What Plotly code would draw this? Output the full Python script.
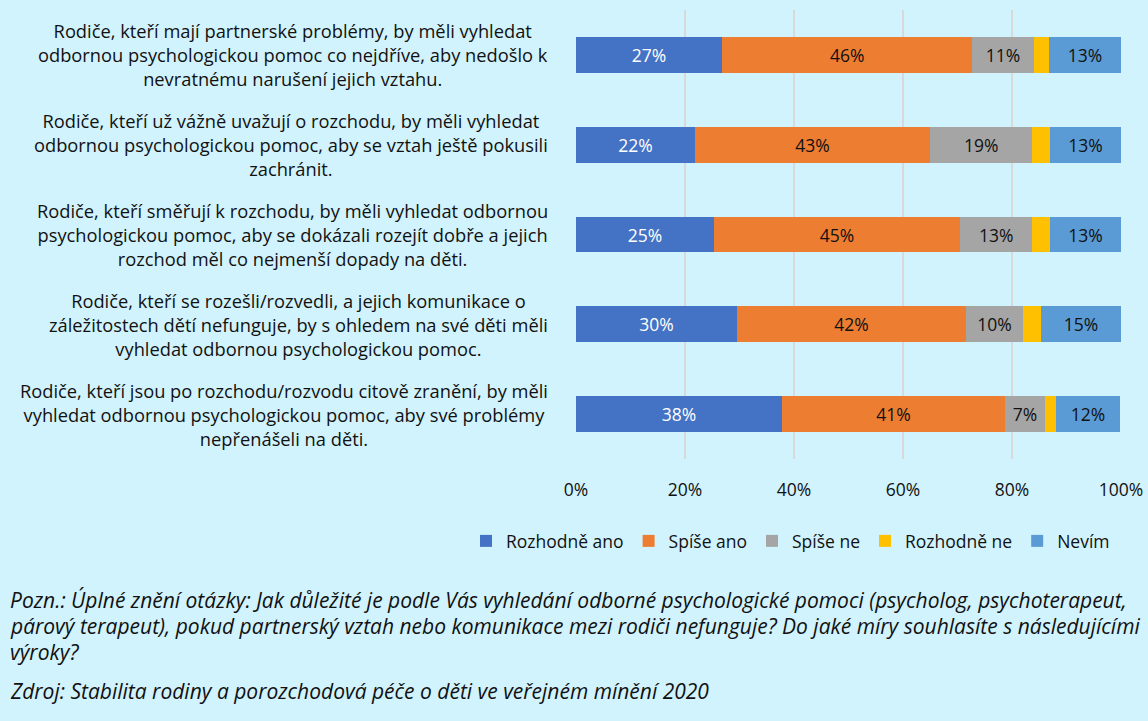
import plotly.graph_objects as go

categories = [
    "Rodiče, kteří mají partnerské problémy, by měli vyhledat<br>odbornou psychologickou pomoc co nejdříve, aby nedošlo k<br>nevratnému narušení jejich vztahu.",
    "Rodiče, kteří už vážně uvažují o rozchodu, by měli vyhledat<br>odbornou psychologickou pomoc, aby se vztah ještě pokusili<br>zachránit.",
    "Rodiče, kteří směřují k rozchodu, by měli vyhledat odbornou<br>psychologickou pomoc, aby se dokázali rozejít dobře a jejich<br>rozchod měl co nejmenší dopady na děti.",
    "Rodiče, kteří se rozešli/rozvedli, a jejich komunikace o<br>záležitostech dětí nefunguje, by s ohledem na své děti měli<br>vyhledat odbornou psychologickou pomoc.",
    "Rodiče, kteří jsou po rozchodu/rozvodu citově zranění, by měli<br>vyhledat odbornou psychologickou pomoc, aby své problémy<br>nepřenášeli na děti.",
]
series_names = ["Rozhodně ano", "Spíše ano", "Spíše ne", "Rozhodně ne", "Nevím"]
rozhodne_ano = [26.8, 21.8, 25.3, 29.5, 37.8]
spise_ano = [45.9, 43.2, 45.2, 42.1, 40.9]
spise_ne = [11.3, 18.7, 13.2, 10.4, 7.4]
rozhodne_ne = [2.8, 3.3, 3.3, 3.3, 1.9]
nevim = [13.2, 13.0, 13.0, 14.7, 11.9]
x_ticks = [0, 20, 40, 60, 80, 100]
x_tick_labels = ["0%", "20%", "40%", "60%", "80%", "100%"]
footnote_lines = [
    "Pozn.: Úplné znění otázky: Jak důležité je podle Vás vyhledání odborné psychologické pomoci (psycholog, psychoterapeut,",
    "párový terapeut), pokud partnerský vztah nebo komunikace mezi rodiči nefunguje? Do jaké míry souhlasíte s následujícími",
    "výroky?",
    "Zdroj: Stabilita rodiny a porozchodová péče o děti ve veřejném mínění 2020",
]

series_values = [rozhodne_ano, spise_ano, spise_ne, rozhodne_ne, nevim]
colors = ["#4472c4", "#ed7d31", "#a5a5a5", "#ffc000", "#5b9bd5"]
text_colors = ["white", "#111111", "#111111", "#111111", "#111111"]
show_labels = [True, True, True, False, True]

FONT = "Open Sans"
BG = "#d1f3fe"
TXT = "#111111"
PLOT_LEFT, PLOT_RIGHT, PLOT_TOP, PLOT_BOTTOM = 576, 1121, 10, 459  # px
PW = PLOT_RIGHT - PLOT_LEFT
PH = PLOT_BOTTOM - PLOT_TOP

fig = go.Figure()
for name, vals, col, tc, show in zip(series_names, series_values, colors, text_colors, show_labels):
    fig.add_trace(go.Bar(
        y=categories, x=vals, name=name, orientation="h",
        marker=dict(color=col, line=dict(width=0)),
        text=[f"{v:.0f}%" for v in vals] if show else None,
        textposition="inside" if show else "none",
        insidetextanchor="middle",
        textfont=dict(family=FONT, size=17.5, color=tc),
        hoverinfo="x+name",
    ))

for cat in categories:
    fig.add_annotation(
        x=(550 - PLOT_LEFT) / PW, xref="paper", y=cat, yref="y", text=cat,
        xanchor="right", yanchor="middle", align="center", showarrow=False,
        font=dict(family=FONT, size=18.3, color=TXT),
    )

foot_y = [600, 626, 652, 691]
for line, py in zip(footnote_lines, foot_y):
    fig.add_annotation(x=(8 - PLOT_LEFT) / PW, xref="paper", y=(PLOT_BOTTOM - py) / PH, yref="paper",
                       text=f"<i>{line}</i>", xanchor="left", yanchor="middle", align="left",
                       showarrow=False, font=dict(family=FONT, size=21.0, color=TXT))

fig.update_layout(
    barmode="stack",
    bargap=0.6,
    width=1148, height=721,
    margin=dict(l=PLOT_LEFT, r=1148 - PLOT_RIGHT, t=PLOT_TOP, b=721 - PLOT_BOTTOM, autoexpand=False),
    paper_bgcolor=BG, plot_bgcolor=BG,
    font=dict(family=FONT, size=16, color=TXT),
    showlegend=True,
    legend=dict(orientation="h", x=(466 - PLOT_LEFT) / PW, xanchor="left",
                y=(PLOT_BOTTOM - 541) / PH, yanchor="middle",
                font=dict(family=FONT, size=17.5, color=TXT),
                itemwidth=30, traceorder="normal", bgcolor="rgba(0,0,0,0)"),
    xaxis=dict(range=[0, 100], tickvals=x_ticks, ticktext=x_tick_labels,
               showgrid=True, gridcolor="#d9d9d9", gridwidth=2, zeroline=False,
               showline=False, ticks="", ticklabelstandoff=18,
               tickfont=dict(family=FONT, size=17.5, color=TXT), fixedrange=True),
    yaxis=dict(autorange="reversed", showticklabels=False, showgrid=False, zeroline=False,
               showline=False, ticks="", fixedrange=True),
    uniformtext=dict(mode=False),
)

fig.write_html(
    "out.html",
    config={"displayModeBar": False},
    post_script=f"document.body.style.margin='0';document.body.style.background='{BG}';",
)
